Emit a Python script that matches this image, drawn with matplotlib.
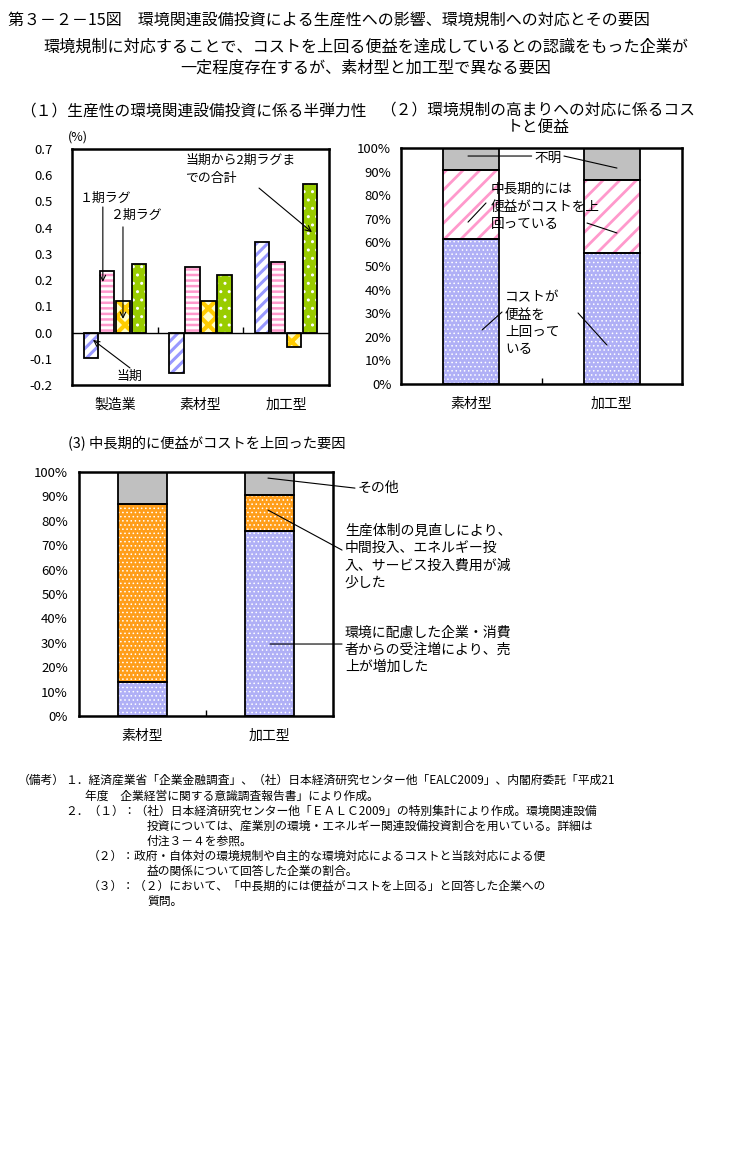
import numpy as np
import matplotlib
matplotlib.use("Agg")
from matplotlib import pyplot as plt

plt.rcParams['font.family'] = ['Noto Sans CJK JP', 'DejaVu Sans']
plt.rcParams['hatch.linewidth'] = 1.5

# (1) semi-elasticity of productivity
cats1 = ['製造業', '素材型', '加工型']
lag0 = [-0.098, -0.155, 0.347]
lag1 = [0.233, 0.249, 0.268]
lag2 = [0.122, 0.122, -0.056]
total = [0.260, 0.218, 0.565]
yticks1 = [-0.2, -0.1, 0.0, 0.1, 0.2, 0.3, 0.4, 0.5, 0.6, 0.7]

# (2) cost and benefit of responding to regulation (%)
cats2 = ['素材型', '加工型']
cost_over = [61.5, 55.5]
benefit_over = [29.0, 31.0]
unknown = [9.5, 13.5]

# (3) reasons benefit exceeded cost (%)
cats3 = ['素材型', '加工型']
sales_up = [14.0, 76.0]
cost_down = [73.0, 14.5]
other = [13.0, 9.5]

pct_ticks = np.arange(0, 101, 10)

W, H = 731, 1163
fig = plt.figure(figsize=(W / 100, H / 100), dpi=100)


def fx(px):
    return px / W


def fy(py):
    return 1 - py / H


def hatched_bar(ax, x, h, width, bottom, face, hcolor, hatch, hlw):
    bars = ax.bar(x, h, width, bottom=bottom, color=face, edgecolor=hcolor,
                  linewidth=0, hatch=hatch, zorder=2)
    for b in bars:
        if hasattr(b, 'set_hatch_linewidth'):
            b.set_hatch_linewidth(hlw)
    ax.bar(x, h, width, bottom=bottom, fill=False, edgecolor='black',
           linewidth=1.3, zorder=3)


def frame(ax):
    for s in ax.spines.values():
        s.set_linewidth(1.8)
    ax.tick_params(axis='y', length=0, labelsize=9.5)
    ax.tick_params(axis='x', which='major', length=0, labelsize=10, pad=9)


# titles
fig.text(fx(8), fy(20), '第３－２－15図　環境関連設備投資による生産性への影響、環境規制への対応とその要因',
         fontsize=11.5, va='center', ha='left')
fig.text(fx(366), fy(47), '環境規制に対応することで、コストを上回る便益を達成しているとの認識をもった企業が',
         fontsize=11.6, va='center', ha='center')
fig.text(fx(366), fy(68), '一定程度存在するが、素材型と加工型で異なる要因',
         fontsize=11.6, va='center', ha='center')

# ---------------- chart 1 ----------------
ax1 = fig.add_axes([fx(72), fy(385), fx(257), 236 / H])
x1 = np.arange(len(cats1))
bw = 0.17
step = 0.187
hatched_bar(ax1, x1 - 1.5 * step, lag0, bw, 0, 'white', '#9999ff', '///', 2.2)
hatched_bar(ax1, x1 - 0.5 * step, lag1, bw, 0, 'white', '#ff99cc', '---', 1.8)
hatched_bar(ax1, x1 + 0.5 * step, lag2, bw, 0, '#ffffcc', '#ffcc00', 'xx', 3.0)
hatched_bar(ax1, x1 + 1.5 * step, total, bw, 0, '#99cc00', 'white', '..', 1.0)
ax1.axhline(0, color='black', linewidth=1.0, zorder=4)
ax1.set_xlim(-0.5, 2.5)
ax1.set_ylim(-0.2, 0.7)
ax1.set_yticks(yticks1)
ax1.set_yticklabels([f'{v:.1f}' for v in yticks1])
ax1.set_xticks(x1)
ax1.set_xticklabels(cats1)
frame(ax1)
ax1.tick_params(axis='y', pad=14)
sec = ax1.secondary_xaxis(0.2 / 0.9)
sec.set_xticks([0.5, 1.5])
sec.set_xticklabels([])
sec.tick_params(direction='in', length=4, width=1)
sec.spines['bottom'].set_visible(False)
fig.text(fx(78), fy(137), '(%)', fontsize=9, ha='center', va='center')
fig.text(fx(20), fy(112), '（１）生産性の環境関連設備投資に係る半弾力性',
         fontsize=11.3, ha='left', va='center')

arrow = dict(arrowstyle='->', color='black', lw=0.8, shrinkA=0, shrinkB=0)
ax1.text(-0.41, 0.513, '１期ラグ', fontsize=9.3, va='center', ha='left')
ax1.annotate('', xy=(-0.14, 0.193), xytext=(-0.14, 0.479), arrowprops=arrow)
ax1.text(-0.06, 0.445, '２期ラグ', fontsize=9.3, va='center', ha='left')
ax1.annotate('', xy=(0.095, 0.052), xytext=(0.095, 0.403), arrowprops=arrow)
ax1.text(0.17, -0.169, '当期', fontsize=9.3, va='center', ha='center')
ax1.annotate('', xy=(-0.255, -0.028), xytext=(0.177, -0.135), arrowprops=arrow)
ax1.text(0.82, 0.658, '当期から2期ラグま', fontsize=9.3, va='center', ha='left')
ax1.text(0.82, 0.589, 'での合計', fontsize=9.3, va='center', ha='left')
ax1.annotate('', xy=(2.30, 0.383), xytext=(1.683, 0.551), arrowprops=arrow)

# ---------------- chart 2 ----------------
ax2 = fig.add_axes([fx(401), fy(384), fx(281), 236 / H])
x2 = np.arange(len(cats2))
b1 = np.array(cost_over)
b2 = b1 + np.array(benefit_over)
hatched_bar(ax2, x2, cost_over, 0.4, 0, '#b0b0f6', 'white', '....', 0.6)
hatched_bar(ax2, x2, benefit_over, 0.4, b1, 'white', '#ff99cc', '//', 2.0)
hatched_bar(ax2, x2, unknown, 0.4, b2, '#c0c0c0', '#c0c0c0', None, 1.0)
ax2.set_xlim(-0.5, 1.5)
ax2.set_ylim(0, 100)
ax2.set_yticks(pct_ticks)
ax2.set_yticklabels([f'{v}%' for v in pct_ticks])
ax2.set_xticks(x2)
ax2.set_xticklabels(cats2)
ax2.set_xticks([0.5], minor=True)
frame(ax2)
ax2.tick_params(axis='y', pad=7)
ax2.tick_params(axis='x', which='minor', direction='in', length=4, width=1)
fig.text(fx(538), fy(119), '（２）環境規制の高まりへの対応に係るコス\nトと便益',
         fontsize=11.3, ha='center', va='center', linespacing=1.05)

line = dict(arrowstyle='-', color='black', lw=0.8, shrinkA=0, shrinkB=0)
ax2.text(0.545, 95.8, '不明', fontsize=9.8, va='center', ha='center')
ax2.annotate('', xy=(-0.023, 96.6), xytext=(0.43, 96.6), arrowprops=line)
ax2.annotate('', xy=(1.037, 91.5), xytext=(0.66, 96.6), arrowprops=line)
ax2.text(0.14, 75.2, '中長期的には\n便益がコストを上\n回っている', fontsize=9.8,
         va='center', ha='left', linespacing=1.3)
ax2.annotate('', xy=(-0.023, 68.6), xytext=(0.105, 76.7), arrowprops=line)
ax2.annotate('', xy=(1.037, 64.0), xytext=(0.824, 68.2), arrowprops=line)
ax2.text(0.24, 25.8, 'コストが\n便益を\n上回って\nいる', fontsize=9.8,
         va='center', ha='left', linespacing=1.3)
ax2.annotate('', xy=(0.077, 22.9), xytext=(0.219, 30.5), arrowprops=line)
ax2.annotate('', xy=(0.966, 16.5), xytext=(0.76, 30.1), arrowprops=line)

# ---------------- chart 3 ----------------
ax3 = fig.add_axes([fx(79), fy(716), fx(254), 244 / H])
x3 = np.arange(len(cats3))
c1 = np.array(sales_up)
c2 = c1 + np.array(cost_down)
hatched_bar(ax3, x3, sales_up, 0.386, 0, '#b0b0f6', 'white', '....', 0.6)
hatched_bar(ax3, x3, cost_down, 0.386, c1, '#ff9e1a', 'white', '....', 0.6)
hatched_bar(ax3, x3, other, 0.386, c2, '#c0c0c0', '#c0c0c0', None, 1.0)
ax3.set_xlim(-0.5, 1.5)
ax3.set_ylim(0, 100)
ax3.set_yticks(pct_ticks)
ax3.set_yticklabels([f'{v}%' for v in pct_ticks])
ax3.set_xticks(x3)
ax3.set_xticklabels(cats3)
ax3.set_xticks([0.5], minor=True)
frame(ax3)
ax3.tick_params(axis='y', pad=8)
ax3.tick_params(axis='x', which='minor', direction='in', length=4, width=1)
fig.text(fx(68), fy(444), '(3) 中長期的に便益がコストを上回った要因',
         fontsize=10.3, ha='left', va='center')

ax3.text(1.697, 93.4, 'その他', fontsize=10, va='center', ha='left')
ax3.annotate('', xy=(0.988, 97.5), xytext=(1.673, 93.4), arrowprops=line,
             annotation_clip=False)
ax3.text(1.594, 65.2, '生産体制の見直しにより、\n中間投入、エネルギー投\n入、サービス投入費用が減\n少した',
         fontsize=10, va='center', ha='left', linespacing=1.3)
ax3.annotate('', xy=(0.988, 84.4), xytext=(1.571, 68.0), arrowprops=line,
             annotation_clip=False)
ax3.text(1.594, 27.2, '環境に配慮した企業・消費\n者からの受注増により、売\n上が増加した',
         fontsize=10, va='center', ha='left', linespacing=1.3)
ax3.annotate('', xy=(1.004, 29.5), xytext=(1.571, 29.5), arrowprops=line,
             annotation_clip=False)

# ---------------- notes ----------------
notes = [
    (18, 780, '（備考）'),
    (65, 780, '１．経済産業省「企業金融調査」、（社）日本経済研究センター他「EALC2009」、内閣府委託「平成21'),
    (85, 796, '年度　企業経営に関する意識調査報告書」により作成。'),
    (65, 811, '２．（１）：（社）日本経済研究センター他「ＥＡＬＣ2009」の特別集計により作成。環境関連設備'),
    (147, 826, '投資については、産業別の環境・エネルギー関連設備投資割合を用いている。詳細は'),
    (147, 841, '付注３－４を参照。'),
    (88, 856, '（２）：政府・自体対の環境規制や自主的な環境対応によるコストと当該対応による便'),
    (147, 871, '益の関係について回答した企業の割合。'),
    (88, 886, '（３）：（２）において、「中長期的には便益がコストを上回る」と回答した企業への'),
    (147, 901, '質問。'),
]
for px, py, s in notes:
    fig.text(fx(px), fy(py), s, fontsize=8.5, ha='left', va='center')

plt.savefig('out.png', dpi=100)
